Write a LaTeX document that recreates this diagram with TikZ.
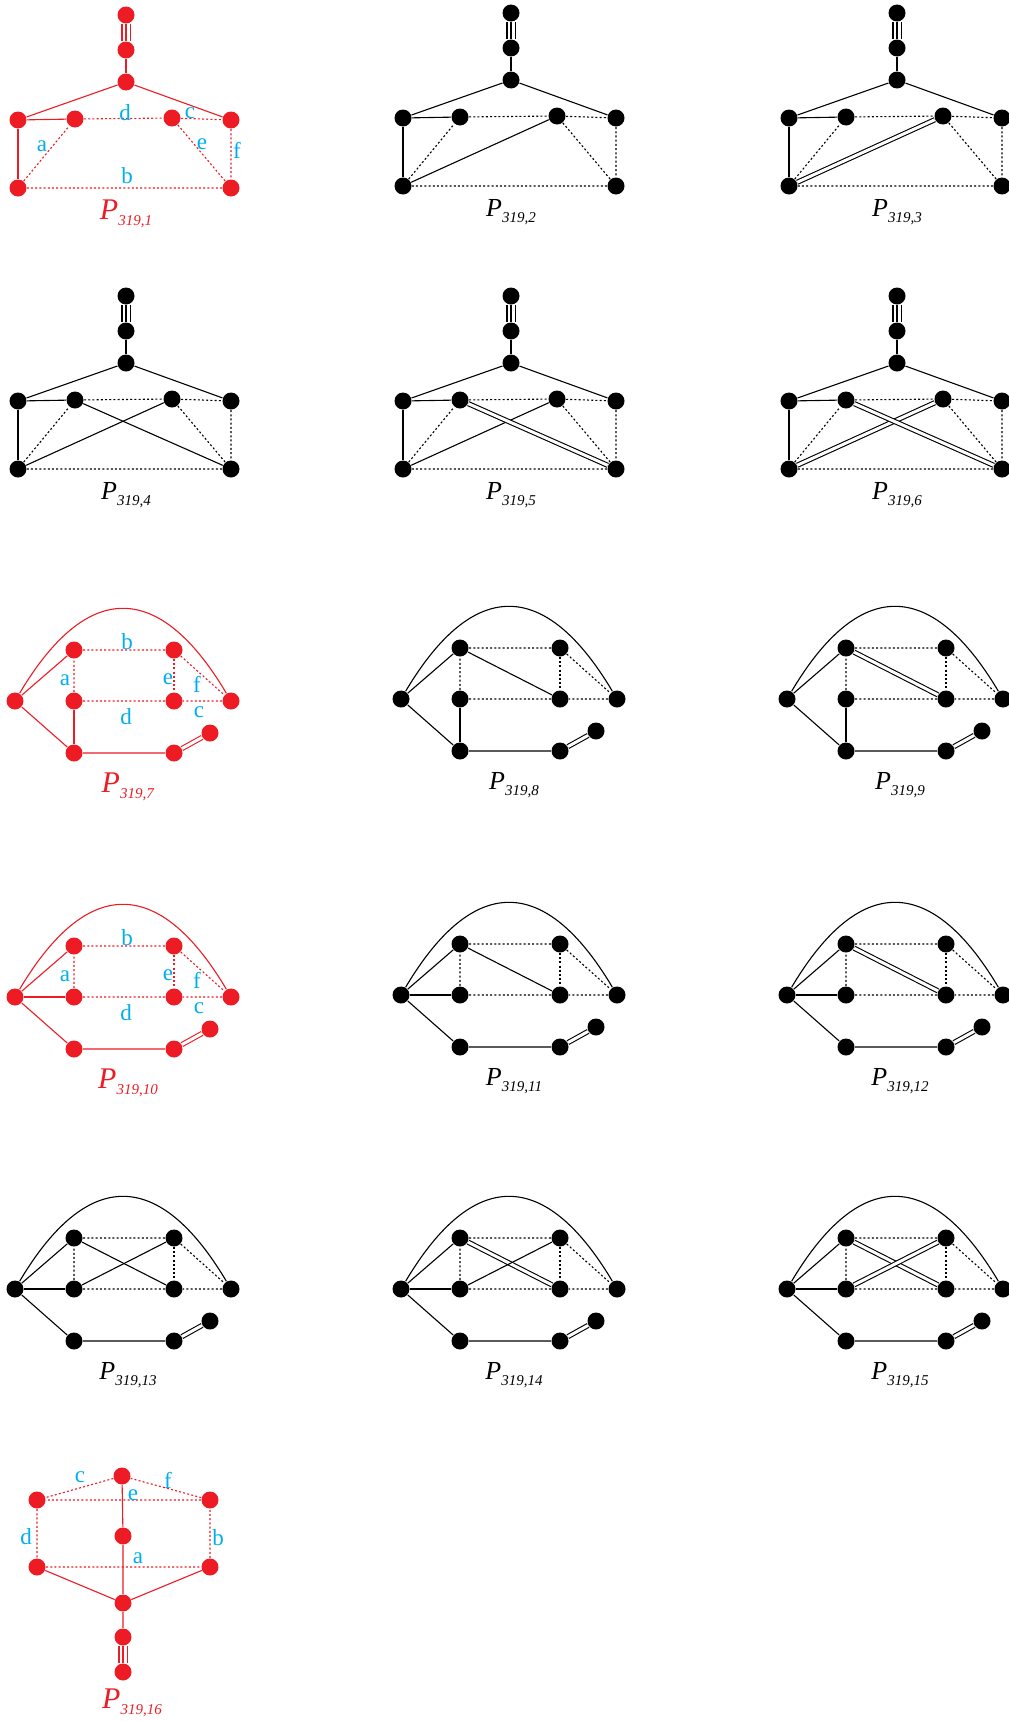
\documentclass[tikz,border=0pt]{standalone}
\usepackage{fontspec}
\setmainfont{Liberation Serif}
\definecolor{pred}{RGB}{237,28,36}
\definecolor{pcyan}{RGB}{0,174,239}
\newcommand{\pname}[1]{\textit{P}\raisebox{-6pt}{\fontsize{15}{15}\selectfont\textit{#1}}}
\tikzset{
  vtx/.style={circle, fill, inner sep=0pt, minimum size=17pt},
  dotln/.style={dash pattern=on 2pt off 2.2pt},
  sgl/.style={},
  dbl/.style={double, double distance=3pt},
  noedge/.style={draw=none},
  tri/.style={double, double distance=7pt},
  elbl/.style={text=pcyan, font=\fontsize{23}{23}\selectfont, inner sep=0pt},
  redpanel/.style={color=pred, lbl/.style={font=\fontsize{30}{32}\selectfont}},
  blackpanel/.style={color=black, lbl/.style={font=\fontsize{26}{28}\selectfont}},
}
\begin{document}
\begin{tikzpicture}[x=1pt, y=-1pt, line width=1.1pt]
\useasboundingbox (0,0) rectangle (1009,1721);
% graphs with the short tail on top
\foreach \i/\dx/\dy/\ink/\eb/\ec in {1/-1/2/redpanel/noedge/noedge,
    2/384/0/blackpanel/sgl/noedge, 3/770/0/blackpanel/dbl/noedge,
    4/-1/283/blackpanel/sgl/sgl, 5/384/283/blackpanel/sgl/dbl,
    6/770/283/blackpanel/dbl/dbl}{
  \begin{scope}[shift={(\dx,\dy)}, \ink]
    \node[vtx] (t\i) at (127,13) {};
    \node[vtx] (s\i) at (127,48) {};
    \node[vtx] (h\i) at (127,80) {};
    \node[vtx] (lt\i) at (19,118) {};
    \node[vtx] (il\i) at (76,117) {};
    \node[vtx] (ir\i) at (173,116) {};
    \node[vtx] (rt\i) at (232,118) {};
    \node[vtx] (bl\i) at (19,186) {};
    \node[vtx] (br\i) at (232,186) {};
    \draw[tri] (t\i) -- (s\i);
    \draw (t\i) -- (s\i) -- (h\i);
    \draw (rt\i) -- (h\i) -- (lt\i) -- (il\i);
    \draw (lt\i) -- (bl\i);
    \draw[dotln] (bl\i) -- (il\i) -- (ir\i) -- (rt\i) -- (br\i) -- (bl\i);
    \draw[dotln] (ir\i) -- (br\i);
    \draw[\eb] (bl\i) -- (ir\i);
    \draw[\ec] (il\i) -- (br\i);
    \node[lbl] (P\i) at (127,212) {\pname{319,\i}};
  \end{scope}
}
% graphs with the arch
\foreach \i/\dx/\dy/\ink/\ece/\elc/\ead/\ecb in {
    7/0/0/redpanel/sgl/noedge/noedge/noedge,
    8/386/-2/blackpanel/sgl/noedge/sgl/noedge,
    9/772/-2/blackpanel/sgl/noedge/dbl/noedge,
    10/0/296/redpanel/noedge/sgl/noedge/noedge,
    11/386/294/blackpanel/noedge/sgl/sgl/noedge,
    12/772/294/blackpanel/noedge/sgl/dbl/noedge,
    13/0/588/blackpanel/noedge/sgl/sgl/sgl,
    14/386/588/blackpanel/noedge/sgl/dbl/sgl,
    15/772/588/blackpanel/noedge/sgl/dbl/dbl}{
  \begin{scope}[shift={(\dx,\dy)}, \ink]
    \node[vtx] (L\i) at (15,701) {};
    \node[vtx] (A\i) at (74,650) {};
    \node[vtx] (B\i) at (174,650) {};
    \node[vtx] (C\i) at (74,701) {};
    \node[vtx] (D\i) at (174,701) {};
    \node[vtx] (R\i) at (231,701) {};
    \node[vtx] (E\i) at (74,753) {};
    \node[vtx] (F\i) at (174,753) {};
    \node[vtx] (G\i) at (210,733) {};
    \draw (L\i) .. controls +(72,-121) and +(-72,-121) .. (R\i);
    \draw (A\i) -- (L\i) -- (E\i) -- (F\i);
    \draw[\ece] (C\i) -- (E\i);
    \draw[\elc] (L\i) -- (C\i);
    \draw[dotln] (C\i) -- (A\i) -- (B\i) -- (R\i) -- (D\i) -- (C\i);
    \draw[dotln] (B\i) -- (D\i);
    \draw[dbl] (F\i) -- (G\i);
    \draw[\ead] (A\i) -- (D\i);
    \draw[\ecb] (C\i) -- (B\i);
    \node[lbl] (P\i) at (128,787) {\pname{319,\i}};
  \end{scope}
}
% the upright one
\begin{scope}[redpanel]
  \node[vtx] (t16) at (122,1476) {};
  \node[vtx] (ul16) at (37,1500) {};
  \node[vtx] (ur16) at (210,1500) {};
  \node[vtx] (m16) at (123,1536) {};
  \node[vtx] (ll16) at (37,1567) {};
  \node[vtx] (lr16) at (210,1567) {};
  \node[vtx] (h16) at (123,1603) {};
  \node[vtx] (s16) at (123,1637) {};
  \node[vtx] (b16) at (123,1672) {};
  \draw[dotln] (ur16) -- (t16) -- (ul16) -- (ll16) -- (lr16) -- (ur16) -- (ul16);
  \draw (t16) -- (m16) -- (h16) -- (s16);
  \draw (ll16) -- (h16) -- (lr16);
  \draw[tri] (s16) -- (b16);
  \draw (s16) -- (b16);
  \node[lbl] (P16) at (132,1703) {\pname{319,16}};
\end{scope}
% edge letters
\node[elbl] (a1) at (42,146) {a};
\node[elbl] (b1) at (127,176) {b};
\node[elbl] (c1) at (190,113) {c};
\node[elbl] (d1) at (125,113) {d};
\node[elbl] (e1) at (202,144) {e};
\node[elbl] (f1) at (237,150) {f};
\foreach \i/\dy in {7/0, 10/296}{
  \node[elbl] (a\i) at (65,680+\dy) {a};
  \node[elbl] (b\i) at (127,642+\dy) {b};
  \node[elbl] (c\i) at (199,712+\dy) {c};
  \node[elbl] (d\i) at (126,717+\dy) {d};
  \node[elbl] (e\i) at (168,679+\dy) {e};
  \node[elbl] (f\i) at (197,684+\dy) {f};
}
\node[elbl] (a16) at (138,1558) {a};
\node[elbl] (b16l) at (218,1538) {b};
\node[elbl] (c16) at (80,1477) {c};
\node[elbl] (d16) at (26,1537) {d};
\node[elbl] (e16) at (133,1495) {e};
\node[elbl] (f16) at (168,1480) {f};
\end{tikzpicture}
\end{document}
